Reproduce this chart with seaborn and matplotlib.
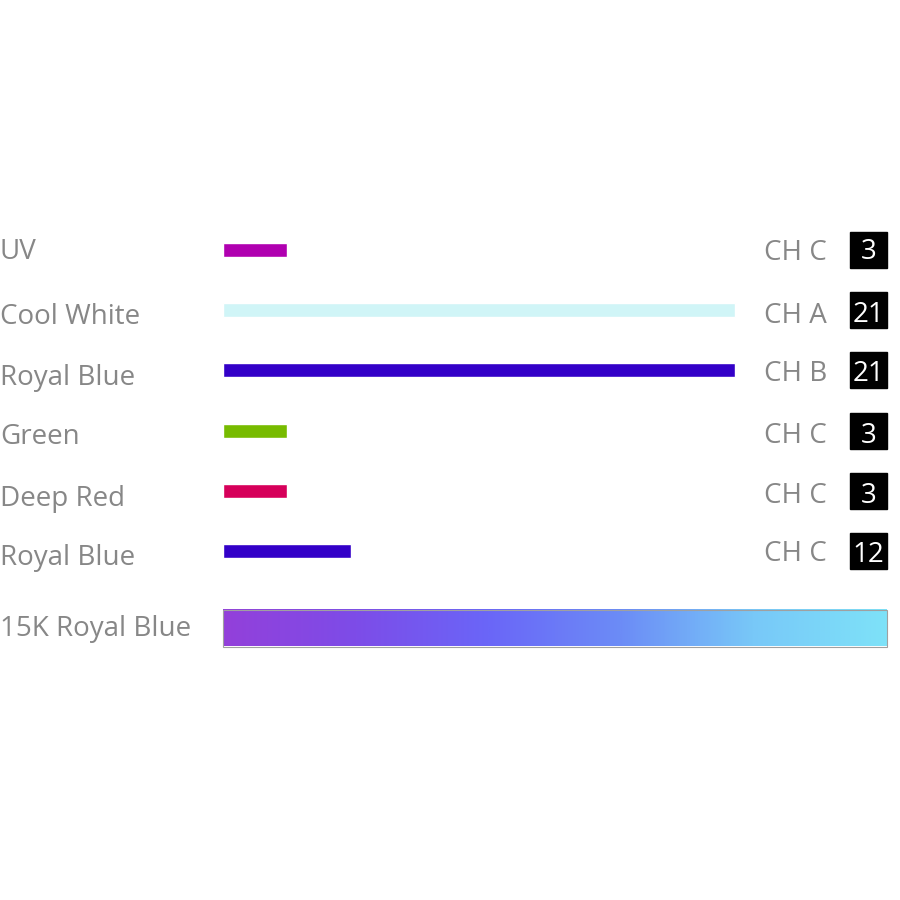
import matplotlib
matplotlib.use("Agg")
import matplotlib.pyplot as plt
import seaborn as sns
import numpy as np
import pandas as pd
from matplotlib.colors import LinearSegmentedColormap
from matplotlib.patches import Rectangle

# ---- data ----
labels = ["UV", "Cool White", "Royal Blue", "Green", "Deep Red", "Royal Blue"]
bar_values = [1, 8, 8, 1, 1, 2]
channels = ["CH C", "CH A", "CH B", "CH C", "CH C", "CH C"]
counts = [3, 21, 21, 3, 3, 12]
colors = ["#b000b0", "#d0f5f7", "#3300c8", "#77bb00", "#d6005a", "#3300c8"]
spectrum_label = "15K Royal Blue"
spectrum_span = 10.375
spectrum_colors = ["#9340da", "#7d4ce8", "#6a66f8", "#6c8cf6", "#78c8f8", "#7ee2f8"]

sns.set_theme(style="white")
plt.rcParams['font.family'] = ['Open Sans', 'DejaVu Sans']

W = H = 900
fig = plt.figure(figsize=(9, 9), dpi=100)
ax = fig.add_axes([0, 0, 1, 1])

# layout (pixels)
x0_px, unit_px = 223, 64.0
y0_px, row_px = 250, 60.2
def px_x(p):
    return (p - x0_px) / unit_px
def dy(p):
    return p / row_px

# per-row text baseline offsets (pixels below row centre)
label_base = [9, 14, 15, 13, 15, 14]
chan_base = [10, 13, 11, 12, 12, 10]
num_base = [9, 12, 11, 12, 12, 11]

ids = [f"r{i}" for i in range(len(labels))]
df = pd.DataFrame({"id": ids, "value": bar_values})
sns.barplot(data=df, y="id", x="value", hue="id", palette=colors, order=ids,
            orient="h", width=14 / row_px, dodge=False, legend=False, ax=ax,
            saturation=1)

grey = "#878787"
fs = 20
for i, (lab, ch, c) in enumerate(zip(labels, channels, counts)):
    ax.text(px_x(0), i + dy(label_base[i]), lab, ha="left", va="baseline",
            color=grey, fontsize=fs)
    ax.text(px_x(764), i + dy(chan_base[i]), ch, ha="left", va="baseline",
            color=grey, fontsize=fs)
    bx0, bx1 = px_x(850), px_x(887)
    bh = dy(36)
    ax.add_patch(Rectangle((bx0, i - bh / 2), bx1 - bx0, bh, color="black", zorder=3))
    ax.text((bx0 + bx1) / 2, i + dy(num_base[i]), str(c), ha="center", va="baseline",
            color="white", fontsize=fs, zorder=4)

# spectrum gradient bar
gy = dy(628 - y0_px)
gh = dy(37)
cmap = LinearSegmentedColormap.from_list("spec", spectrum_colors)
grad = np.linspace(0, 1, 512).reshape(1, -1)
ax.imshow(grad, cmap=cmap, aspect="auto",
          extent=(0, spectrum_span, gy + gh / 2, gy - gh / 2), zorder=2)
ax.add_patch(Rectangle((0, gy - gh / 2), spectrum_span, gh, fill=False,
                       edgecolor="#a0a0a0", linewidth=0.8, zorder=3))
ax.text(px_x(0), gy + dy(8), spectrum_label, ha="left", va="baseline",
        color=grey, fontsize=fs)

ax.set_xlim(px_x(0), px_x(W))
ax.set_ylim(dy(H - y0_px), dy(-y0_px))
ax.axis("off")

fig.savefig("out.png", dpi=100)
